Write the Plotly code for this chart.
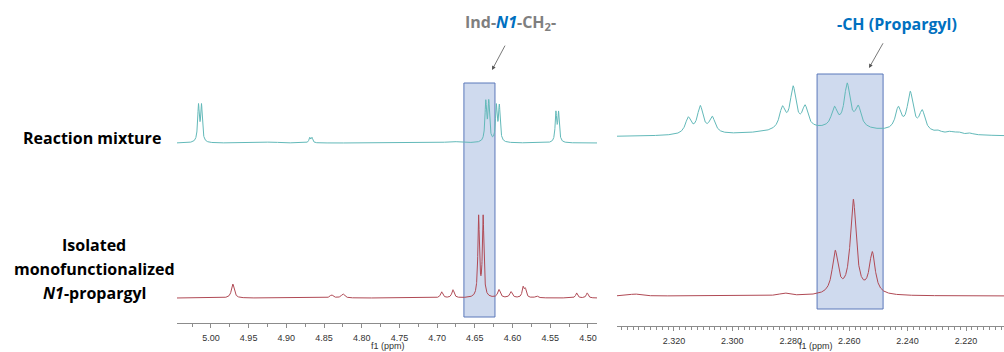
import numpy as np
import plotly.graph_objects as go

# ---------------- data ----------------
# Left panel (4.50-5.00 ppm) : peak lists  (ppm, height, half-width)
L_top_ppm = [5.0165, 5.0125, 4.8690, 4.8660, 4.9200, 4.6800, 4.6355, 4.6315, 4.6215, 4.6175, 4.5425, 4.5390]
L_top_h   = [0.36, 0.36, 0.05, 0.05, 0.01, 0.015, 0.39, 0.39, 0.35, 0.35, 0.29, 0.29]
L_top_w   = [0.0013, 0.0013, 0.0012, 0.0012, 0.01, 0.01, 0.0013, 0.0013, 0.0013, 0.0013, 0.0012, 0.0012]
L_top_offset = 1.55

L_bot_ppm = [4.971, 4.840, 4.825, 4.694, 4.679, 4.645, 4.639, 4.618, 4.602, 4.586, 4.583, 4.568, 4.515, 4.501]
L_bot_h   = [0.14, 0.03, 0.04, 0.06, 0.08, 0.80, 0.80, 0.08, 0.06, 0.10, 0.08, 0.02, 0.05, 0.05]
L_bot_w   = [0.0022, 0.0025, 0.0025, 0.0018, 0.0018, 0.0012, 0.0012, 0.0020, 0.0020, 0.0015, 0.0015, 0.0020, 0.0015, 0.0015]

# Right panel (2.21-2.34 ppm)
R_top_ppm = [2.2650, 2.3151, 2.3110, 2.3069, 2.2829, 2.2792, 2.2751, 2.2651, 2.2607, 2.2569,
             2.2432, 2.2391, 2.2350, 2.2295, 2.2254, 2.2227, 2.2186]
R_top_h   = [0.08, 0.16, 0.27, 0.16, 0.21, 0.41, 0.21, 0.19, 0.43, 0.20, 0.22, 0.38, 0.20, 0.02, 0.02, 0.02, 0.015]
R_top_w   = [0.03, 0.0012, 0.0012, 0.0012, 0.0012, 0.0012, 0.0012, 0.0012, 0.0012, 0.0012,
             0.0012, 0.0012, 0.0012, 0.0012, 0.0012, 0.0012, 0.0012]
R_top_offset = 1.585

R_bot_ppm = [2.3335, 2.2822, 2.2648, 2.2586, 2.2521]
R_bot_h   = [0.02, 0.025, 0.42, 0.94, 0.41]
R_bot_w   = [0.002, 0.002, 0.0012, 0.0012, 0.0012]

# highlighted regions (ppm)
L_box = [4.6645, 4.6233]
R_box = [2.2710, 2.2484]

# ranges & ticks
L_range = [5.045, 4.488]
R_range = [2.3395, 2.207]
R_tickvals = [2.320, 2.300, 2.280, 2.260, 2.240, 2.220]
R_ticktext = ["2.320", "2.300", "2.280", "2.260", "2.240", "2.220"]


def spectrum(ppm, centers, heights, widths):
    y = np.zeros_like(ppm)
    for c, h, w in zip(centers, heights, widths):
        y += h / (1.0 + ((ppm - c) / w) ** 2)
    return y


xl = np.linspace(L_range[0], L_range[1], 4000)
xr = np.linspace(R_range[0], R_range[1], 4000)

TEAL = "#62b9b9"
RED = "#b04a55"

fig = go.Figure()
fig.add_trace(go.Scatter(x=xl, y=L_top_offset + spectrum(xl, L_top_ppm, L_top_h, L_top_w),
                         mode="lines", line=dict(color=TEAL, width=1), xaxis="x", yaxis="y"))
fig.add_trace(go.Scatter(x=xl, y=spectrum(xl, L_bot_ppm, L_bot_h, L_bot_w),
                         mode="lines", line=dict(color=RED, width=1), xaxis="x", yaxis="y"))
fig.add_trace(go.Scatter(x=xr, y=R_top_offset + spectrum(xr, R_top_ppm, R_top_h, R_top_w),
                         mode="lines", line=dict(color=TEAL, width=1), xaxis="x2", yaxis="y2"))
fig.add_trace(go.Scatter(x=xr, y=spectrum(xr, R_bot_ppm, R_bot_h, R_bot_w),
                         mode="lines", line=dict(color=RED, width=1), xaxis="x2", yaxis="y2"))

BOXFILL = "#cfdaee"
BOXLINE = "#5b78ba"
fig.add_shape(type="rect", xref="x", yref="y", x0=L_box[0], x1=L_box[1], y0=-0.19, y1=2.15,
              fillcolor=BOXFILL, line=dict(color=BOXLINE, width=1), layer="below")
fig.add_shape(type="rect", xref="x2", yref="y2", x0=R_box[0], x1=R_box[1], y0=-0.13, y1=2.22,
              fillcolor=BOXFILL, line=dict(color=BOXLINE, width=1), layer="below")

W, H = 1004, 352
tickfont = dict(family="Liberation Sans", size=9, color="#333333")
axis_common = dict(showline=True, linecolor="#8c8c8c", linewidth=1, ticks="outside", ticklen=4,
                   tickcolor="#8c8c8c", showgrid=False, zeroline=False, tickfont=tickfont,
                   ticklabelstandoff=2)

fig.update_layout(
    width=W, height=H, margin=dict(l=0, r=0, t=0, b=0),
    paper_bgcolor="white", plot_bgcolor="white", showlegend=False,
    xaxis=dict(domain=[177 / W, 597 / W], range=L_range, anchor="y", dtick=0.05, tick0=5.0,
               tickformat=".2f",
               minor=dict(dtick=0.025, tick0=5.0, ticks="outside", ticklen=3, tickcolor="#8c8c8c"),
               **axis_common),
    yaxis=dict(domain=[1 - 323 / H, 1], range=[-0.25, 2.98], visible=False),
    xaxis2=dict(domain=[617 / W, 1.0], range=R_range, anchor="y2", tickvals=R_tickvals,
                ticktext=R_ticktext,
                minor=dict(dtick=0.002, tick0=2.2, ticks="outside", ticklen=3, tickcolor="#8c8c8c"),
                **axis_common),
    yaxis2=dict(domain=[1 - 326 / H, 1], range=[-0.30, 2.96], visible=False),
)

LABEL_FONT = dict(family="Open Sans", size=16, color="black")


def px_ann(text, x, y, font, **kw):
    fig.add_annotation(text=text, xref="paper", yref="paper", x=x / W, y=1 - y / H,
                       showarrow=False, font=font, xanchor="center", yanchor="middle", **kw)


px_ann("<b>Reaction mixture</b>", 92, 138, LABEL_FONT)
px_ann("<b>Isolated</b>", 94, 245, LABEL_FONT)
px_ann("<b>monofunctionalized</b>", 94, 269, LABEL_FONT)
px_ann("<b><i>N1</i>-propargyl</b>", 94, 293, LABEL_FONT)

GRAY = "#7f7f7f"
BLUE = "#0070c0"
px_ann("<b><span style='color:%s'>Ind-</span><span style='color:%s'><i>N1</i></span>"
       "<span style='color:%s'>-CH<sub>2</sub>-</span></b>" % (GRAY, BLUE, GRAY),
       510, 22, dict(family="Open Sans", size=16, color=GRAY))
px_ann("<b>-CH (Propargyl)</b>", 897, 24, dict(family="Open Sans", size=16, color=BLUE))

px_ann("f1 (ppm)", 388, 346, dict(family="Liberation Sans", size=9, color="#333333"))
px_ann("f1 (ppm)", 816, 346, dict(family="Liberation Sans", size=9, color="#333333"))

# arrows
for (x0, y0, x1, y1) in [(508, 40, 492, 70), (886, 38, 869, 68)]:
    fig.add_annotation(text=" ", xref="paper", yref="paper", x=x1 / W, y=1 - y1 / H,
                       ax=x0 - x1, ay=y0 - y1, showarrow=True, arrowhead=2, arrowsize=1,
                       arrowwidth=0.8, arrowcolor="#555555")

fig.write_html("out.html", config={"displayModeBar": False},
               post_script="document.body.style.margin='0';document.body.style.overflow='hidden';")
